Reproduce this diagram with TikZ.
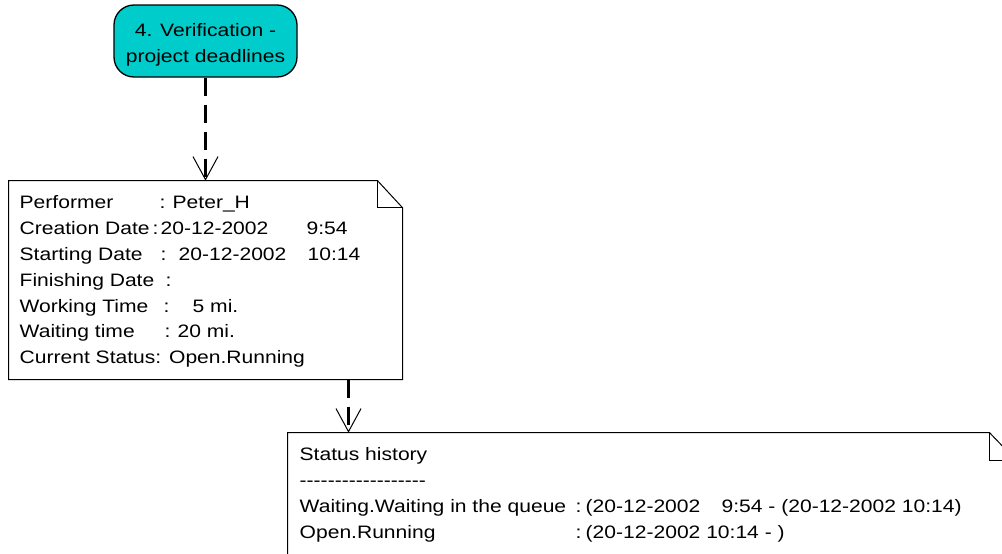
\documentclass[tikz,border=0pt]{standalone}
\usepackage{fontspec}
\setmainfont{Liberation Sans}
\newfontfamily\diafont[FakeStretch=1.17]{Liberation Sans}
\usetikzlibrary{positioning,arrows.meta}

\definecolor{taskcyan}{RGB}{0,204,204}

% label, colon and value, each at a fixed place in the line
\newcommand{\field}[4]{\makebox[#1pt][l]{#2}\makebox[#3pt][l]{:}#4}
\newcommand{\dashrow}{\foreach \i in {1,...,18}{\mbox{-}}}

\tikzset{
  task/.style={draw, line width=1.3pt, fill=taskcyan, rounded corners=20pt,
    minimum width=183pt, minimum height=72pt, align=center, inner sep=0pt,
    font=\diafont\fontsize{18}{26}\selectfont},
  notebox/.style={inner sep=0pt, outer sep=0pt},
  notetext/.style={anchor=north west, align=left, inner sep=0pt,
    font=\diafont\fontsize{18}{25.8}\selectfont},
  fold/.style={line width=1pt},
  link/.style={line width=2.2pt, dash pattern=on 18pt off 9pt,
    -{Straight Barb[length=23pt, width=25pt, line width=1pt]}}
}

\begin{document}
\begin{tikzpicture}[x=1pt, y=-1pt]
    \useasboundingbox (0,0) rectangle (1002,554);
    \clip (0,0) rectangle (1002,554);

    \node[task] (task) at (205.5,41) {\rule{0pt}{21pt}4. Verification -\\project deadlines};

    % notes
    \node[notebox, minimum width=394pt, minimum height=199pt, below=103pt of task] (perf) {};
    \node[notebox, minimum width=729pt, minimum height=170pt, below=53pt of perf.south west,
        anchor=north west, xshift=279pt] (hist) {};

    \draw[fold] (perf.south west) |- ([xshift=-25pt]perf.north east)
        -- ([yshift=-27pt]perf.north east) -- (perf.south east) -- cycle;
    \draw[fold] ([xshift=-25pt]perf.north east) |- ([yshift=-27pt]perf.north east);
    \draw[fold] (hist.south west) |- ([xshift=-27pt]hist.north east)
        -- ([yshift=-28pt]hist.north east) -- (hist.south east) -- cycle;
    \draw[fold] ([xshift=-27pt]hist.north east) |- ([yshift=-28pt]hist.north east);

    \node[notetext] (perftext) at ([xshift=11pt, yshift=-15pt]perf.north west) {%
        \field{140}{Performer}{13}{Peter\_H}\\
        \field{133}{Creation Date}{8}{\makebox[146pt][l]{20-12-2002}9:54}\\
        \field{141}{Starting Date}{18}{\makebox[129pt][l]{20-12-2002}10:14}\\
        \field{146}{Finishing Date}{0}{}\\
        \field{144}{Working Time}{29}{5 mi.}\\
        \field{145}{Waiting time}{13}{20 mi.}\\
        Current Status: Open.Running};

    \node[notetext] (histtext) at ([xshift=12pt, yshift=-15pt]hist.north west) {%
        Status history\\
        \dashrow\\
        \field{276}{Waiting.Waiting in the queue}{10}{\makebox[136pt][l]{(20-12-2002}9:54 - (20-12-2002 10:14)}\\
        \field{276}{Open.Running}{10}{(20-12-2002 10:14 - )}};

    % connectors
    \coordinate[right=61pt of hist.north west] (histin);
    \draw[link] (task) -- (task |- perf.north);
    \draw[link] (histin |- perf.south) -- (histin);
\end{tikzpicture}
\end{document}
